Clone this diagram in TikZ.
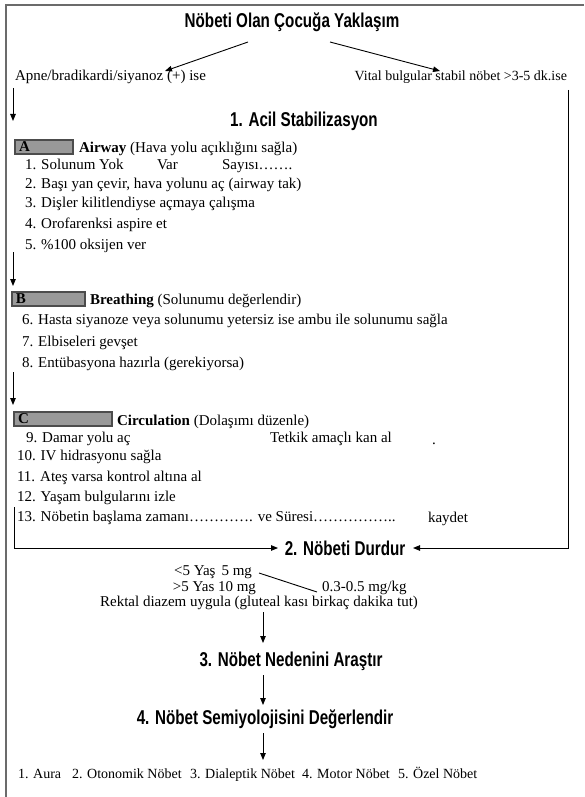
\documentclass[tikz,border=0pt]{standalone}
\usepackage{fontspec}
\setmainfont{Liberation Serif}
\newfontfamily\headfont[FakeStretch=0.76]{Liberation Sans}
\usetikzlibrary{arrows.meta}
\begin{document}
\begin{tikzpicture}[x=1pt,y=-1pt,
  every node/.style={inner sep=0pt, outer sep=0pt},
  body/.style={font=\fontsize{15}{18}\selectfont, anchor=base west},
  small/.style={font=\fontsize{14}{16}\selectfont, anchor=base west},
  head/.style={font=\headfont\bfseries\fontsize{20}{22}\selectfont},
  arr/.style={-{Triangle[length=7pt,width=5.5pt]}, line width=0.9pt},
  plain/.style={line width=0.9pt},
  frame/.style={draw=black!58, line width=2pt},
  letbox/.style={draw=black!70, fill=black!40, line width=1.3pt, anchor=north west,
    minimum height=14pt, align=left, inner xsep=4pt,
    font=\fontsize{15}{15}\selectfont\bfseries}
]
\useasboundingbox (0,0) rectangle (584,797);
% frame
\draw[frame] (584,5) -- (6,5) -- (6,797);

% title and branches
\node[head] (title) at (292,22) {Nöbeti Olan Çocuğa Yaklaşım};
\node[body] (apne) at (15,81) {Apne/bradikardi/siyanoz (+) ise};
\node[small, anchor=base east] (vital) at (567,81) {Vital bulgular stabil nöbet >3-5 dk.ise};
\coordinate (tl) at (248,42); \coordinate (hl) at (165,71);
\coordinate (tr) at (330,42); \coordinate (hr) at (440,71);
\draw[arr] (tl) -- (hl);
\draw[arr] (tr) -- (hr);

% 1. Acil
\node[head] (acil) at (304,121) {1. Acil Stabilizasyon};
\coordinate (a1) at (13,88); \coordinate (a1e) at (13,121);
\draw[arr] (a1) -- (a1e);

% A
\node[letbox, text width=50pt] (boxA) at (15,140) {A};
\node[body] (airway) at (79,152) {\textbf{Airway} (Hava yolu açıklığını sağla)};
\node[body] (i1) at (25,169) {1. Solunum Yok};
\node[body] (var) at (157,169) {Var};
\node[body] (sayisi) at (222,169) {Sayısı…….};
\node[body] (i2) at (25,188) {2. Başı yan çevir, hava yolunu aç (airway tak)};
\node[body] (i3) at (25,207) {3. Dişler kilitlendiyse açmaya çalışma};
\node[body] (i4) at (25,228) {4. Orofarenksi aspire et};
\node[body] (i5) at (25,249) {5. \%100 oksijen ver};
\coordinate (a2) at (13,252); \coordinate (a2e) at (13,286);
\draw[arr] (a2) -- (a2e);

% B
\node[letbox, text width=65pt] (boxB) at (12,292) {B};
\node[body] (breath) at (90,304) {\textbf{Breathing} (Solunumu değerlendir)};
\node[body] (i6) at (22,324) {6. Hasta siyanoze veya solunumu yetersiz ise ambu ile solunumu sağla};
\node[body] (i7) at (22,346) {7. Elbiseleri gevşet};
\node[body] (i8) at (22,367) {8. Entübasyona hazırla (gerekiyorsa)};
\coordinate (a3) at (13,372); \coordinate (a3e) at (13,405);
\draw[arr] (a3) -- (a3e);

% C
\node[letbox, text width=90pt] (boxC) at (14,412) {C};
\node[body] (circ) at (117,425) {\textbf{Circulation} (Dolaşımı düzenle)};
\node[body] (i9) at (26,442) {9. Damar yolu aç};
\node[body] (tetkik) at (270,442) {Tetkik amaçlı kan al};
\node[body] (dot) at (432,444) {.};
\node[body] (i10) at (17,460) {10. IV hidrasyonu sağla};
\node[body] (i11) at (17,481) {11. Ateş varsa kontrol altına al};
\node[body] (i12) at (17,501) {12. Yaşam bulgularını izle};
\node[body] (i13) at (17,521) {13. Nöbetin başlama zamanı…………. ve Süresi……………..};
\node[body] (kaydet) at (428,522) {kaydet};

% 2. Nöbeti Durdur
\node[head] (durdur) at (345,548) {2. Nöbeti Durdur};
\coordinate (l1) at (14,507); \coordinate (l2) at (14,548);
\draw[arr] (l1) -- (l2) -- (durdur.west -| 278,548);
\coordinate (r1) at (568,90); \coordinate (r2) at (568,548);
\draw[arr] (r1) -- (r2) -- (durdur.east -| 413,548);

% dosage
\node[body, anchor=base east] (d1) at (252,575) {<5 Yaş\hspace{6pt}5 mg};
\node[body, anchor=base east] (d2) at (256,591) {>5 Yas 10 mg};
\node[body] (d3) at (322,591) {0.3-0.5 mg/kg};
\coordinate (dl1) at (259,573); \coordinate (dl2) at (317,592);
\draw[plain] (dl1) -- (dl2);
\node[body, anchor=base] (rektal) at (259,606) {Rektal diazem uygula (gluteal kası birkaç dakika tut)};

% 3, 4
\node[head] (neden) at (291,661) {3. Nöbet Nedenini Araştır};
\node[head] (semi) at (265,719) {4. Nöbet Semiyolojisini Değerlendir};
\draw[arr] (263,612) -- (263,643);
\draw[arr] (263,675) -- (263,705);
\draw[arr] (263,733) -- (263,760);

% bottom row
\node[small] (b1) at (18,778) {1. Aura};
\node[small] (b2) at (72,778) {2. Otonomik Nöbet};
\node[small] (b3) at (190,778) {3. Dialeptik Nöbet};
\node[small] (b4) at (302,778) {4. Motor Nöbet};
\node[small] (b5) at (398,778) {5. Özel Nöbet};
\end{tikzpicture}
\end{document}
